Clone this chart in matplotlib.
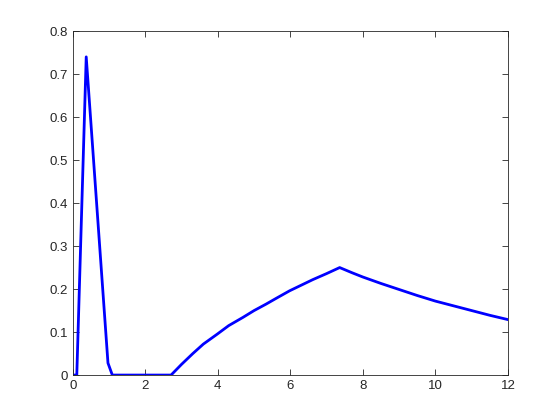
import numpy as np
import matplotlib
matplotlib.use("Agg")
from matplotlib import pyplot as plt

# values
x_vals = [0.0, 0.11, 0.37, 0.97, 1.09, 2.71, 3.0, 3.31, 3.6, 3.98, 4.3, 4.69, 5.0, 5.33,
          5.6, 5.98, 6.3, 6.62, 7.0, 7.36, 7.7, 8.0, 8.5, 9.0, 9.5, 10.0, 10.5, 11.0,
          11.5, 12.0]
y_vals = [0.0, 0.0, 0.74, 0.028, 0.0, 0.0, 0.025, 0.050, 0.072, 0.095, 0.115, 0.134,
          0.150, 0.165, 0.178, 0.196, 0.209, 0.222, 0.236, 0.250, 0.238, 0.228, 0.213,
          0.199, 0.185, 0.172, 0.161, 0.150, 0.139, 0.129]
x_ticks = [0, 2, 4, 6, 8, 10, 12]
y_ticks = [0, 0.1, 0.2, 0.3, 0.4, 0.5, 0.6, 0.7, 0.8]

plt.rcParams['font.family'] = ['Liberation Sans', 'DejaVu Sans']
fig = plt.figure(figsize=(5.6, 4.2), dpi=100)
ax = fig.add_axes([0.13, 0.107, 0.777, 0.819])
ax.plot(x_vals, y_vals, color=(0, 0, 1), linewidth=2)

ax.set_xlim(0, 12)
ax.set_ylim(0, 0.8)
ax.set_xticks(x_ticks)
ax.set_yticks(y_ticks)
ax.set_xticklabels([str(t) for t in x_ticks])
ax.set_yticklabels(["0"] + ["%.1f" % t for t in y_ticks[1:]])
gray = (0.15, 0.15, 0.15)
ax.tick_params(direction='in', length=4, width=0.6, colors=gray, labelsize=9.5,
               top=True, right=True)
for s in ax.spines.values():
    s.set_color(gray)
    s.set_linewidth(0.6)

fig.savefig("out.png", dpi=100, facecolor='white')
